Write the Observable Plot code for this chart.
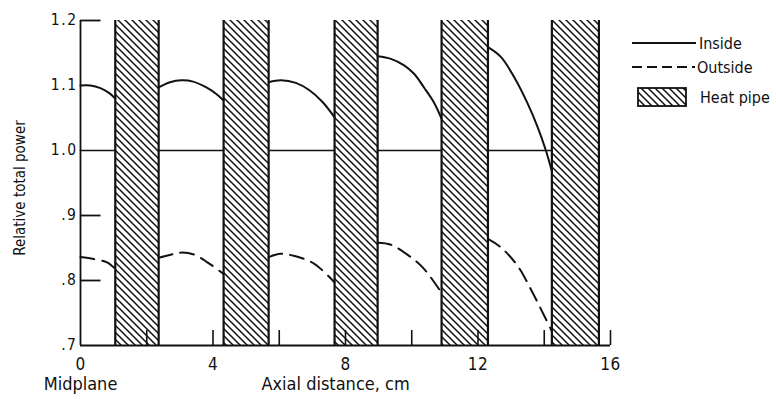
<!DOCTYPE html>
<html><head><meta charset="utf-8">
<script src="https://cdn.jsdelivr.net/npm/d3@7"></script>
<script src="https://cdn.jsdelivr.net/npm/@observablehq/plot@0.6"></script>
<style>
body{margin:0;background:#fff;}
#wrap{position:relative;width:776px;height:399px;}
#legend{position:absolute;left:0;top:0;}
#wrap g[aria-label="y-axis tick label"] text{letter-spacing:1.5px;}
#wrap g[aria-label="x-axis tick label"] text{letter-spacing:0.5px;}
</style></head><body><div id="wrap"></div>
<script>
const FONT = '"Liberation Sans Narrow","DejaVu Sans Condensed",sans-serif';

// heat pipe positions (cm)
const bandStart = [1.05, 4.32, 7.67, 10.90, 14.23];
const bandEnd   = [2.36, 5.68, 8.97, 12.30, 15.65];

// Inside curve, one array per segment between heat pipes
const insideX = [
  [0, 0.3, 0.6, 0.85, 1.05],
  [2.36, 2.7, 3.05, 3.4, 3.8, 4.1, 4.32],
  [5.68, 6.05, 6.5, 6.9, 7.3, 7.67],
  [8.97, 9.37, 9.77, 10.07, 10.37, 10.67, 10.90],
  [12.30, 12.69, 13.09, 13.5, 13.8, 14.05, 14.23]
];
const insideY = [
  [1.100, 1.100, 1.096, 1.089, 1.080],
  [1.097, 1.105, 1.108, 1.106, 1.097, 1.087, 1.077],
  [1.105, 1.108, 1.104, 1.093, 1.075, 1.051],
  [1.145, 1.141, 1.131, 1.118, 1.097, 1.074, 1.049],
  [1.159, 1.144, 1.113, 1.072, 1.036, 1.000, 0.968]
];

// Outside curve
const outsideX = [
  [0, 0.4, 0.8, 1.05],
  [2.36, 2.82, 3.07, 3.42, 3.83, 4.32],
  [5.68, 6.04, 6.44, 7.05, 7.67],
  [8.97, 9.37, 9.97, 10.37, 10.90],
  [12.30, 12.69, 13.19, 13.59, 13.9, 14.23]
];
const outsideY = [
  [0.836, 0.833, 0.828, 0.818],
  [0.835, 0.841, 0.843, 0.840, 0.828, 0.810],
  [0.836, 0.841, 0.838, 0.826, 0.797],
  [0.858, 0.855, 0.836, 0.818, 0.781],
  [0.864, 0.851, 0.823, 0.787, 0.756, 0.722]
];

// reference level 1.0 segments
const refLevel = 1.0;

const yTicks = [0.7, 0.8, 0.9, 1.0, 1.1, 1.2];
const yLabels = [".7", ".8", ".9", "1.0", "1.1", "1.2"];
const yInnerTicks = [0.8, 0.9, 1.2];
const xTicks = [2, 4, 6, 8, 10, 12, 14, 16];
const xLabels = [0, 4, 8, 12, 16];
const xTitle = "Axial distance, cm";
const xSubTitle = "Midplane";
const yTitle = "Relative total power";
const legendNames = ["Inside", "Outside", "Heat pipe"];

const toRows = (X, Y) => X.flatMap((xs, s) => xs.map((x, i) => ({x, y: Y[s][i], seg: s})));
const insideRows = toRows(insideX, insideY);
const outsideRows = toRows(outsideX, outsideY);
const bands = bandStart.map((s, i) => ({s, e: bandEnd[i]}));
const refRows = bandStart.flatMap((s, i) => [
  {x: i === 0 ? 0 : bandEnd[i - 1], y: refLevel, seg: i},
  {x: s, y: refLevel, seg: i}
]);

const INK = "#111";
const plot = Plot.plot({
  width: 776, height: 399,
  marginLeft: 80, marginRight: 166, marginTop: 20, marginBottom: 54,
  x: {domain: [0, 16]},
  y: {domain: [0.7, 1.2]},
  style: {fontFamily: FONT, fontSize: "16px", color: INK, background: "#fff", overflow: "visible"},
  marks: [
    Plot.rect(bands, {x1: "s", x2: "e", y1: 0.7, y2: 1.2, fill: "url(#hatch)"}),
    Plot.ruleX(bands.flatMap(b => [b.s, b.e]), {stroke: INK, strokeWidth: 2.2}),
    Plot.ruleX([0], {stroke: INK, strokeWidth: 1.8}),
    Plot.ruleY([0.7], {stroke: INK, strokeWidth: 1.8}),
    Plot.ruleY(yInnerTicks, {x1: 0, x2: 0.62, stroke: INK, strokeWidth: 1.8}),
    Plot.ruleX(xTicks, {y1: 0.7, y2: 0.723, stroke: INK, strokeWidth: 1.6}),
    Plot.line(refRows, {x: "x", y: "y", z: "seg", stroke: INK, strokeWidth: 1.6}),
    Plot.line(insideRows, {x: "x", y: "y", z: "seg", curve: "catmull-rom", stroke: INK, strokeWidth: 2}),
    Plot.line(outsideRows, {x: "x", y: "y", z: "seg", curve: "catmull-rom", stroke: INK, strokeWidth: 2, strokeDasharray: "14,8"}),
    Plot.axisY(yTicks, {tickSize: 0, tickPadding: 3, fontSize: 15.5, tickFormat: d => yLabels[yTicks.indexOf(d)], label: null}),
    Plot.axisX(xLabels, {tickSize: 0, tickPadding: 12, fontSize: 17, label: null}),
    Plot.text([xSubTitle], {x: 0, frameAnchor: "bottom", dy: 44, fontSize: 18, fill: INK}),
    Plot.text([xTitle], {x: 7.7, frameAnchor: "bottom", dy: 44, fontSize: 18, fill: INK})
  ]
});

// hatch pattern
const svg = d3.select(plot);
const defs = svg.insert("defs", ":first-child");
const pat = defs.append("pattern").attr("id", "hatch").attr("patternUnits", "userSpaceOnUse")
  .attr("width", 7).attr("height", 7);
pat.append("rect").attr("width", 7).attr("height", 7).attr("fill", "#fff");
pat.append("path").attr("d", "M-1,-1L8,8M-1,6L1,8M6,-1L8,1").attr("stroke", INK).attr("stroke-width", 1.5);

// rotated y-axis title
svg.append("text").attr("transform", "translate(25,188) rotate(-90)")
  .attr("text-anchor", "middle").attr("font-size", 15).attr("fill", INK).text(yTitle);

document.getElementById("wrap").appendChild(plot);

// legend at right
const lg = d3.select("#wrap").append("svg").attr("id", "legend").attr("width", 776).attr("height", 130)
  .style("font-family", FONT).style("font-size", "16px");
lg.append("line").attr("x1", 632).attr("x2", 696).attr("y1", 43).attr("y2", 43).attr("stroke", INK).attr("stroke-width", 2);
lg.append("line").attr("x1", 632).attr("x2", 695).attr("y1", 67).attr("y2", 67).attr("stroke", INK).attr("stroke-width", 2).attr("stroke-dasharray", "10,5");
lg.append("rect").attr("x", 638).attr("y", 88).attr("width", 48).attr("height", 18).attr("fill", "url(#hatch)").attr("stroke", INK).attr("stroke-width", 1.8);
[[legendNames[0], 699, 49], [legendNames[1], 697, 73], [legendNames[2], 700, 103]].forEach(([t, x, y]) =>
  lg.append("text").attr("x", x).attr("y", y).attr("fill", INK).text(t));
</script></body></html>
